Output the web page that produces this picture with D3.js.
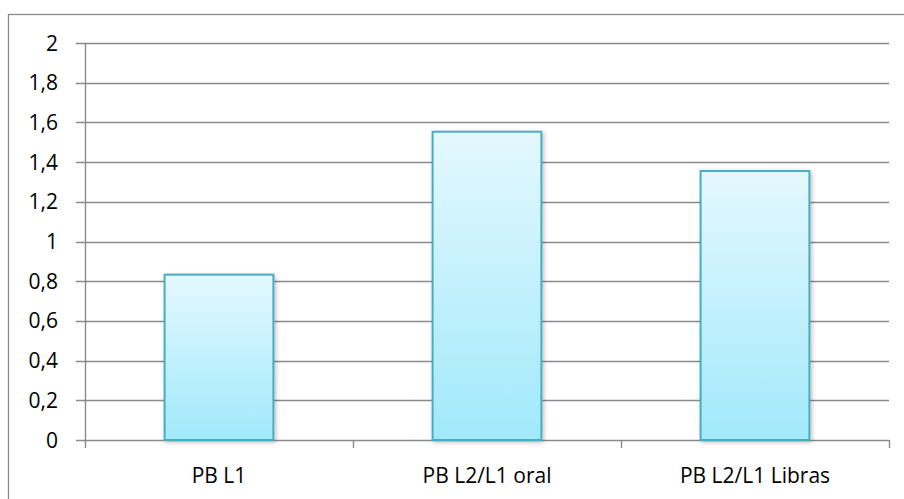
<!DOCTYPE html>
<html>
<head>
<meta charset="utf-8">
<script src="https://cdn.jsdelivr.net/npm/d3@7"></script>
<style>
  html, body { margin: 0; padding: 0; background: #fff; }
  svg { display: block; }
  text { font-family: "Open Sans", "Noto Sans", sans-serif; fill: #000; }
</style>
</head>
<body>
<svg id="chart" width="904" height="499"></svg>
<script>
// Chart data
const categories = ["PB L1", "PB L2/L1 oral", "PB L2/L1 Libras"];
const values = [0.833, 1.553, 1.355];
const yTicks = [0, 0.2, 0.4, 0.6, 0.8, 1, 1.2, 1.4, 1.6, 1.8, 2];
const yTickLabels = ["0", "0,2", "0,4", "0,6", "0,8", "1", "1,2", "1,4", "1,6", "1,8", "2"];

const svg = d3.select("#chart");
const plot = { left: 85, right: 889, top: 43, bottom: 440 };
const lineColor = "#8a8a8a";

// Outer chart frame (extends past the right and bottom edges)
svg.append("rect")
  .attr("x", 8.5).attr("y", 14.5)
  .attr("width", 1000).attr("height", 1000)
  .attr("fill", "none").attr("stroke", lineColor).attr("stroke-width", 1.3);

const x = d3.scaleBand().domain(categories).range([plot.left, plot.right]).padding(0);
const y = d3.scaleLinear().domain([0, 2]).range([plot.bottom, plot.top]);

const defs = svg.append("defs");
const grad = defs.append("linearGradient")
  .attr("id", "barFill").attr("x1", 0).attr("y1", 0).attr("x2", 0).attr("y2", 1);
grad.append("stop").attr("offset", "0%").attr("stop-color", "#e4f8fe");
grad.append("stop").attr("offset", "100%").attr("stop-color", "#a1e9fb");

const shadow = defs.append("filter").attr("id", "barShadow")
  .attr("x", "-20%").attr("y", "-20%").attr("width", "140%").attr("height", "140%");
shadow.append("feDropShadow").attr("dx", 1.5).attr("dy", 1.5)
  .attr("stdDeviation", 2).attr("flood-color", "#000").attr("flood-opacity", 0.25);

// Horizontal gridlines with tick stubs left of the axis
svg.append("g").selectAll("line")
  .data(yTicks)
  .join("line")
  .attr("x1", plot.left - 9).attr("x2", plot.right)
  .attr("y1", d => Math.round(y(d)) + 0.5).attr("y2", d => Math.round(y(d)) + 0.5)
  .attr("stroke", lineColor).attr("stroke-width", 1.4);

// Y tick labels
svg.append("g").selectAll("text")
  .data(yTicks)
  .join("text")
  .attr("x", 58)
  .attr("y", d => y(d))
  .attr("dy", "0.36em")
  .attr("text-anchor", "end")
  .attr("font-size", 21)
  .text((d, i) => yTickLabels[i]);

// Vertical axis line
svg.append("line")
  .attr("x1", plot.left + 0.5).attr("x2", plot.left + 0.5)
  .attr("y1", plot.top).attr("y2", plot.bottom + 8)
  .attr("stroke", lineColor).attr("stroke-width", 1.4);

// Category tick marks at band boundaries
const boundaries = categories.map(c => x(c)).concat([plot.right]);
svg.append("g").selectAll("line")
  .data(boundaries.slice(1))
  .join("line")
  .attr("x1", d => Math.round(d) + 0.5).attr("x2", d => Math.round(d) + 0.5)
  .attr("y1", plot.bottom).attr("y2", plot.bottom + 8)
  .attr("stroke", lineColor).attr("stroke-width", 1.4);

// Bars
const barW = x.bandwidth() * 0.406;
svg.append("g").selectAll("rect")
  .data(values)
  .join("rect")
  .attr("x", (d, i) => x(categories[i]) + (x.bandwidth() - barW) / 2)
  .attr("y", d => y(d))
  .attr("width", barW)
  .attr("height", d => y(0) - y(d))
  .attr("fill", "url(#barFill)")
  .attr("stroke", "#4aacc5")
  .attr("stroke-width", 2)
  .attr("filter", "url(#barShadow)");

// Category labels
svg.append("g").selectAll("text")
  .data(categories)
  .join("text")
  .attr("x", d => x(d) + x.bandwidth() / 2)
  .attr("y", 483)
  .attr("text-anchor", "middle")
  .attr("font-size", 21)
  .text(d => d);
</script>
</body>
</html>
